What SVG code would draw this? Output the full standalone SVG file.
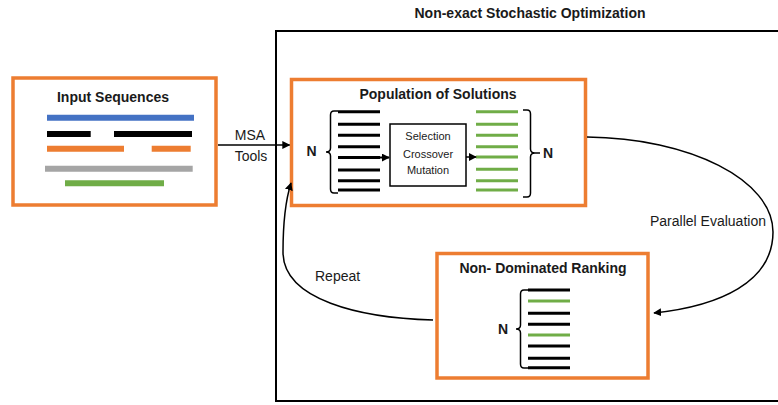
<svg xmlns="http://www.w3.org/2000/svg" width="778" height="405" viewBox="0 0 778 405">
<defs>
<style>
.t{font-family:"Liberation Sans",Arial,sans-serif;font-size:14px;fill:#1a1a1a}
.b{font-weight:bold}
.s{font-size:11px}
.ob{fill:#fff;stroke:#ED7D31;stroke-width:3.5}
.k{stroke:#000;stroke-width:3}
.g{stroke:#70AD47;stroke-width:3}
.br{fill:none;stroke:#000;stroke-width:1.5}
.c{fill:none;stroke:#000;stroke-width:1.5}
</style>
<marker id="ah" viewBox="0 0 10 10" refX="9" refY="5" markerWidth="8" markerHeight="8" markerUnits="userSpaceOnUse" orient="auto">
<path d="M0,0 L10,5 L0,10 z" fill="#000"/>
</marker>
</defs>
<rect width="778" height="405" fill="#fff"/>

<g id="stochastic-frame">
<rect x="276" y="31" width="520" height="370" fill="none" stroke="#000" stroke-width="2"/>
<text class="t b" x="530" y="18" text-anchor="middle">Non-exact Stochastic Optimization</text>
</g>

<g id="input-sequences">
<rect class="ob" x="13" y="78" width="203" height="127"/>
<text class="t b" x="113" y="102" text-anchor="middle">Input Sequences</text>
<g stroke-width="6">
<line x1="47" y1="117.7" x2="194" y2="117.7" stroke="#4472C4"/>
<line x1="47" y1="134" x2="90.7" y2="134" stroke="#000"/>
<line x1="114" y1="134" x2="192" y2="134" stroke="#000"/>
<line x1="47" y1="148.7" x2="124" y2="148.7" stroke="#ED7D31"/>
<line x1="151.7" y1="148.7" x2="190.7" y2="148.7" stroke="#ED7D31"/>
<line x1="45" y1="168.7" x2="192.7" y2="168.7" stroke="#A5A5A5"/>
<line x1="65" y1="183.3" x2="164" y2="183.3" stroke="#70AD47"/>
</g>
</g>

<g id="population">
<rect class="ob" x="291.5" y="79.5" width="294" height="126"/>
<text class="t b" x="438" y="99" text-anchor="middle">Population of Solutions</text>
<text class="t b" x="306.5" y="156">N</text>
<path class="br" d="M338,111 H334 Q330.5,111 330.5,115 V148 Q330.5,152 326,152 Q330.5,152 330.5,156 V189 Q330.5,193 334,193 H338"/>
<g class="k">
<line x1="338" y1="111.7" x2="380" y2="111.7"/>
<line x1="338" y1="124.3" x2="380" y2="124.3"/>
<line x1="338" y1="135.3" x2="380" y2="135.3"/>
<line x1="338" y1="146.7" x2="380" y2="146.7"/>
<line x1="338" y1="157.5" x2="380" y2="157.5"/>
<line x1="338" y1="170" x2="380" y2="170"/>
<line x1="338" y1="180.7" x2="380" y2="180.7"/>
<line x1="338" y1="190" x2="380" y2="190"/>
</g>
<g class="g">
<line x1="476" y1="111.7" x2="518" y2="111.7"/>
<line x1="476" y1="124.3" x2="518" y2="124.3"/>
<line x1="476" y1="135.3" x2="518" y2="135.3"/>
<line x1="476" y1="146.7" x2="518" y2="146.7"/>
<line x1="476" y1="157" x2="518" y2="157"/>
<line x1="476" y1="169.3" x2="518" y2="169.3"/>
<line x1="476" y1="180.7" x2="518" y2="180.7"/>
<line x1="476" y1="190" x2="518" y2="190"/>
</g>
<path class="br" d="M523,110 H527 Q530.5,110 530.5,114 V149 Q530.5,153 535,153 H540 M535,153 Q530.5,153 530.5,157 V193 Q530.5,197 527,197 H523"/>
<text class="t b" x="543" y="158">N</text>
</g>

<g id="operators">
<rect x="390" y="124" width="76" height="62" fill="#fff" stroke="#000" stroke-width="1.5"/>
<text class="t s" x="428" y="140" text-anchor="middle">Selection</text>
<text class="t s" x="428" y="158" text-anchor="middle">Crossover</text>
<text class="t s" x="428" y="174" text-anchor="middle">Mutation</text>
</g>

<g id="non-dominated-ranking">
<rect class="ob" x="437" y="253.5" width="211" height="124.5"/>
<text class="t b" x="543" y="273" text-anchor="middle">Non- Dominated Ranking</text>
<text class="t b" x="498" y="334">N</text>
<path class="br" d="M528,290 H524 Q520.5,290 520.5,294 V325 Q520.5,329 516,329 Q520.5,329 520.5,333 V364 Q520.5,368 524,368 H528"/>
<line class="k" x1="528" y1="290" x2="570" y2="290"/>
<line class="g" x1="528" y1="301" x2="570" y2="301"/>
<line class="k" x1="528" y1="313.3" x2="570" y2="313.3"/>
<line class="k" x1="528" y1="324.3" x2="570" y2="324.3"/>
<line class="g" x1="528" y1="335" x2="570" y2="335"/>
<line class="k" x1="528" y1="346" x2="570" y2="346"/>
<line class="k" x1="528" y1="358.3" x2="570" y2="358.3"/>
<line class="k" x1="528" y1="367.7" x2="570" y2="367.7"/>
</g>

<g id="connectors">
<line class="c" x1="218" y1="145" x2="289.5" y2="145" marker-end="url(#ah)"/>
<text class="t" x="250" y="140" text-anchor="middle">MSA</text>
<text class="t" x="251" y="161" text-anchor="middle">Tools</text>
<line stroke="#000" stroke-width="2" x1="378" y1="157.5" x2="389" y2="157.5" marker-end="url(#ah)"/>
<line stroke="#000" stroke-width="1.5" x1="466" y1="157" x2="476" y2="157" marker-end="url(#ah)"/>
<path class="c" d="M587,137 C690,138 773,180 773,232 C773,282 720,306 654,313" marker-end="url(#ah)"/>
<text class="t" x="650" y="226">Parallel Evaluation</text>
<path class="c" d="M433,320 C360,318 283,300 283,252 C283,222 285,202 291,183" marker-end="url(#ah)"/>
<text class="t" x="315" y="281">Repeat</text>
</g>
</svg>
